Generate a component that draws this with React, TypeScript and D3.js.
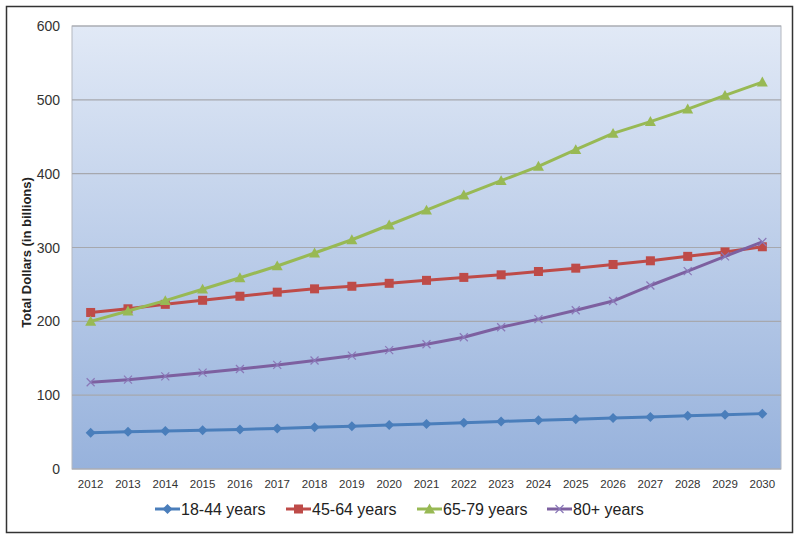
import * as d3 from "d3";

// ── Data ──────────────────────────────────────────────────────
const YEARS = [
  "2012", "2013", "2014", "2015", "2016", "2017", "2018", "2019", "2020", "2021",
  "2022", "2023", "2024", "2025", "2026", "2027", "2028", "2029", "2030",
];

const AGE_18_44 = [49, 50.5, 51.5, 52.5, 53.5, 55, 56.5, 58, 59.5, 61, 62.5, 64.5, 66, 67.5, 69, 70.5, 72, 73.5, 75];
const AGE_45_64 = [212, 217, 223, 228.5, 234, 239.5, 244, 247.5, 251.5, 255.5, 259.5, 263, 267.5, 272, 277, 282, 288, 294, 301];
const AGE_65_79 = [200, 214, 228, 243.5, 259, 275, 292.5, 310.5, 330.5, 350.5, 371, 390.5, 410, 432.5, 454.5, 470.5, 487.5, 506, 524];
const AGE_80P = [117.5, 121, 125.5, 130.5, 135.5, 141, 147, 153.5, 161, 169, 178.5, 192, 203, 215, 227.5, 248.5, 268, 288, 307.5];

const Y_TICKS = [0, 100, 200, 300, 400, 500, 600];

type Marker = "diamond" | "square" | "triangle" | "x";

const SERIES: { name: string; values: number[]; color: string; marker: Marker }[] = [
  { name: "18-44 years", values: AGE_18_44, color: "#4a7ebb", marker: "diamond" },
  { name: "45-64 years", values: AGE_45_64, color: "#be4b48", marker: "square" },
  { name: "65-79 years", values: AGE_65_79, color: "#98b954", marker: "triangle" },
  { name: "80+ years", values: AGE_80P, color: "#7d60a0", marker: "x" },
];

// ── Geometry ──────────────────────────────────────────────────
const W = 800;
const H = 539;
const PLOT = { left: 72, right: 781, top: 26, bottom: 469 };
const FONT = "Arial, 'Liberation Sans', sans-serif";

function MarkerShape({ type, cx, cy, color }: { type: Marker; cx: number; cy: number; color: string }) {
  if (type === "diamond") {
    const r = 5;
    return <path d={`M${cx},${cy - r}L${cx + r},${cy}L${cx},${cy + r}L${cx - r},${cy}Z`} fill={color} />;
  }
  if (type === "square") {
    const s = 9;
    return <rect x={cx - s / 2} y={cy - s / 2} width={s} height={s} fill={color} />;
  }
  if (type === "triangle") {
    const r = 5.5;
    return <path d={`M${cx},${cy - r}L${cx + r},${cy + r * 0.8}L${cx - r},${cy + r * 0.8}Z`} fill={color} />;
  }
  const r = 4;
  return (
    <path
      d={`M${cx - r},${cy - r}L${cx + r},${cy + r}M${cx - r},${cy + r}L${cx + r},${cy - r}`}
      stroke="#8a78b8"
      strokeWidth={1.2}
      fill="none"
    />
  );
}

export default function App() {
  const x = d3.scaleBand().domain(YEARS).range([PLOT.left, PLOT.right]);
  const y = d3.scaleLinear().domain([0, 600]).range([PLOT.bottom, PLOT.top]);
  const cx = (yr: string) => (x(yr) as number) + x.bandwidth() / 2;

  const line = d3
    .line<number>()
    .x((_, i) => cx(YEARS[i]))
    .y((v) => y(v));

  const legendX = [155, 286, 417, 547];

  return (
    <>
      <style>{`body{margin:0}`}</style>
      <svg width={W} height={H} style={{ display: "block", fontFamily: FONT }}>
        <defs>
          <linearGradient id="bg" x1="0" y1="0" x2="0" y2="1">
            <stop offset="0%" stopColor="#e1e9f6" />
            <stop offset="100%" stopColor="#97b2dc" />
          </linearGradient>
        </defs>
        <rect x={0} y={0} width={W} height={H} fill="#ffffff" />
        <rect x={6.5} y={6.5} width={786} height={526} fill="#ffffff" stroke="#333333" strokeWidth={1.5} />

        {/* Plot background */}
        <rect
          x={PLOT.left}
          y={PLOT.top}
          width={PLOT.right - PLOT.left}
          height={PLOT.bottom - PLOT.top}
          fill="url(#bg)"
          stroke="#b4b8c0"
          strokeWidth={1}
        />

        {/* Gridlines */}
        {Y_TICKS.map((t) => (
          <line key={`g-${t}`} x1={PLOT.left} x2={PLOT.right} y1={y(t)} y2={y(t)} stroke="#a6a8ae" strokeWidth={1.2} />
        ))}

        {/* Y tick labels */}
        {Y_TICKS.map((t) => (
          <text key={`yt-${t}`} x={60} y={y(t) + 5} textAnchor="end" fontSize={14} fill="#333">
            {t}
          </text>
        ))}

        {/* X tick labels */}
        {YEARS.map((yr) => (
          <text key={`xt-${yr}`} x={cx(yr)} y={488} textAnchor="middle" fontSize={11.5} fill="#333">
            {yr}
          </text>
        ))}

        {/* Y axis title */}
        <text
          x={0}
          y={0}
          transform={`translate(31, ${(PLOT.top + PLOT.bottom) / 2 + 5}) rotate(-90)`}
          textAnchor="middle"
          fontSize={13}
          fontWeight="bold"
          fill="#222"
        >
          Total Dollars (in billions)
        </text>

        {/* Series */}
        {SERIES.map((s) => (
          <g key={s.name}>
            <path d={line(s.values) ?? ""} fill="none" stroke={s.color} strokeWidth={3} strokeLinejoin="round" />
            {s.values.map((v, i) => (
              <MarkerShape key={i} type={s.marker} cx={cx(YEARS[i])} cy={y(v)} color={s.color} />
            ))}
          </g>
        ))}

        {/* Legend */}
        {SERIES.map((s, i) => (
          <g key={`lg-${s.name}`}>
            <line x1={legendX[i]} x2={legendX[i] + 25} y1={509} y2={509} stroke={s.color} strokeWidth={3} />
            <MarkerShape type={s.marker} cx={legendX[i] + 12.5} cy={509} color={s.color} />
            <text x={legendX[i] + 26} y={515} fontSize={16} fill="#222">
              {s.name}
            </text>
          </g>
        ))}
      </svg>
    </>
  );
}
